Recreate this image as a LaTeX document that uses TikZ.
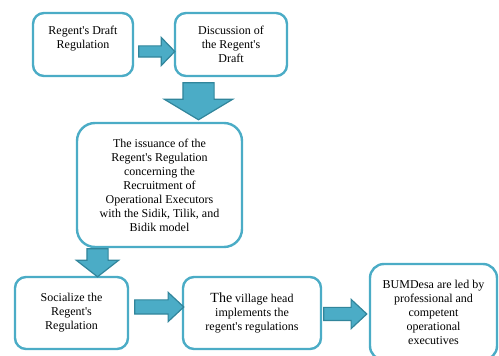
\documentclass[tikz,border=0pt]{standalone}
\usepackage{fontspec}
\setmainfont{Liberation Serif}
\usetikzlibrary{shapes.arrows, positioning}
\definecolor{boxblue}{RGB}{75,172,198}
\definecolor{arrowedge}{RGB}{49,133,155}
\newcommand{\ap}{\textquotesingle}
\tikzset{
    fatarrow/.style={single arrow, draw=arrowedge, fill=boxblue, line width=1.2pt, inner sep=0pt, text depth=0pt, single arrow head indent=0pt, anchor=tail},
}

\begin{document}
\begin{tikzpicture}[x=1pt, y=1pt, font=\fontsize{12}{14}\selectfont]
    \tikzstyle{block} = [rectangle, draw=boxblue, line width=2.4pt, fill=white,
    align=center, rounded corners=11pt, inner sep=0pt]
    \clip (0,0) rectangle (499,356);

    \node [block, minimum width=100pt, minimum height=63pt] (B1) at (83,311.5) {Regent\ap s Draft\\Regulation\\\mbox{}};
    \node [block, minimum width=112pt, minimum height=63pt] (B2) at (231,311.5) {Discussion of\\the Regent\ap s\\Draft};
    \node [block, minimum width=165pt, minimum height=124pt, rounded corners=18pt] (B3) at (159.5,171) {The issuance of the\\Regent\ap s Regulation\\concerning the\\Recruitment of\\Operational Executors\\with the Sidik, Tilik, and\\Bidik model};
    \node [block, minimum width=113pt, minimum height=72pt] (B4) at (71.5,43) {Socialize the\\Regent\ap s\\Regulation};
    \node [block, minimum width=138pt, minimum height=72pt] (B5) at (252,43) {{\fontsize{14}{14}\selectfont The} village head\\implements the\\regent\ap s regulations};
    \node [block, minimum width=127pt, minimum height=96pt, rounded corners=14pt] (B6) at (433.5,44) {BUMDesa are led by\\professional and\\competent\\operational\\executives};

    % block arrows between the steps
    \node [fatarrow, minimum height=36pt, text height=10pt, single arrow head extend=8.5pt, single arrow tip angle=92] (A1) at ([xshift=4pt, yshift=-7pt]B1.east) {};
    \node [fatarrow, rotate=-90, minimum height=37pt, text height=30pt, single arrow head extend=18.5pt, single arrow tip angle=118] (A2) at ([xshift=-32.5pt, yshift=-5pt]B2.south) {};
    \node [fatarrow, rotate=-90, minimum height=28pt, text height=20pt, single arrow head extend=10.5pt, single arrow tip angle=104] (A3) at ([xshift=-62pt]B3.south) {};
    \node [fatarrow, minimum height=49pt, text height=13pt, single arrow head extend=7.5pt, single arrow tip angle=86] (A4) at ([xshift=5pt, yshift=6pt]B4.east) {};
    \node [fatarrow, minimum height=43pt, text height=12pt, single arrow head extend=8pt, single arrow tip angle=86] (A5) at ([xshift=1pt, yshift=-1pt]B5.east) {};
\end{tikzpicture}
\end{document}
